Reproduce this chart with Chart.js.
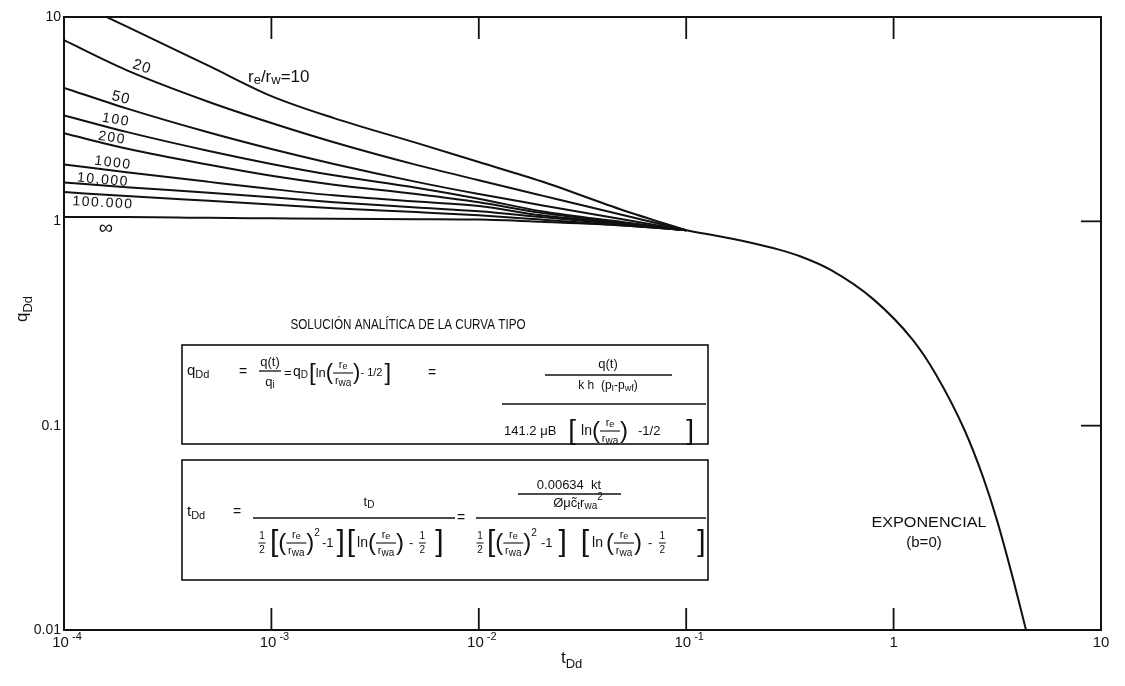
<!DOCTYPE html>
<html>
<head>
<meta charset="utf-8">
<script src="https://cdn.jsdelivr.net/npm/chart.js@4.4.1/dist/chart.umd.min.js"></script>
<style>
  html, body { margin: 0; padding: 0; background: #fff; }
  canvas { display: block; }
</style>
</head>
<body>
<canvas id="chart" width="1125" height="686"></canvas>
<script>
// dimensionless time t_Dd shared by the transient stems
const tStem = [1e-4, 2e-4, 5e-4, 1e-3, 2e-3, 5e-3, 1e-2, 2e-2, 5e-2, 0.1];

// q_Dd for each r_e/r_w stem
const qRe10     = [12.5, 9.0, 5.76, 4.1, 3.2, 2.42, 1.95, 1.57, 1.13, 0.905];
const qRe20     = [7.7, 5.5, 3.84, 3.03, 2.44, 1.89, 1.59, 1.34, 1.07, 0.905];
const qRe50     = [4.5, 3.57, 2.72, 2.26, 1.91, 1.56, 1.36, 1.20, 1.02, 0.905];
const qRe100    = [3.3, 2.74, 2.21, 1.91, 1.68, 1.46, 1.29, 1.12, 0.99, 0.905];
const qRe200    = [2.7, 2.27, 1.89, 1.67, 1.51, 1.36, 1.24, 1.10, 0.98, 0.905];
const qRe1000   = [1.9, 1.74, 1.56, 1.44, 1.34, 1.25, 1.19, 1.07, 0.975, 0.905];
const qRe10000  = [1.55, 1.47, 1.38, 1.31, 1.24, 1.17, 1.12, 1.05, 0.965, 0.905];
const qRe100000 = [1.39, 1.33, 1.26, 1.21, 1.16, 1.11, 1.07, 1.02, 0.955, 0.905];
const qReInf    = [1.05, 1.05, 1.04, 1.035, 1.03, 1.025, 1.02, 0.995, 0.955, 0.905];

// common exponential (b=0) tail
const tExp = [0.1, 0.2, 0.283, 0.354, 0.5, 0.8, 1.24, 1.6, 2.2, 2.7, 3.15, 3.8, 4.35, 5.0];
const qExp = [0.905, 0.79, 0.725, 0.675, 0.577, 0.415, 0.262, 0.178, 0.095, 0.056, 0.0345, 0.0172, 0.01, 0.0058];

const xTicks = [1e-4, 1e-3, 1e-2, 1e-1, 1, 10];
const xTickBase = ['10', '10', '10', '10', '1', '10'];
const xTickExp = ['-4', '-3', '-2', '-1', '', ''];
const yTicks = [0.01, 0.1, 1, 10];
const yTickLabels = ['0.01', '0.1', '1', '10'];

const stems = [qRe10, qRe20, qRe50, qRe100, qRe200, qRe1000, qRe10000, qRe100000, qReInf];

const FONT = '"Liberation Sans", Arial, sans-serif';
const INK = '#111';

function pts(ts, qs) {
    return ts.map((t, i) => ({ x: t, y: qs[i] }));
}

function lineSet(data) {
    return {
        data: data,
        borderColor: INK,
        borderWidth: 2,
        pointRadius: 0,
        fill: false,
        cubicInterpolationMode: 'monotone'
    };
}

const datasets = stems.map(q => lineSet(pts(tStem, q)));
datasets.push(lineSet(pts(tExp, qExp)));

// ---- small text helpers for the annotations ----
let ctx;

function hline(x1, x2, y, w) {
    ctx.lineWidth = w || 1.3;
    ctx.beginPath();
    ctx.moveTo(x1, y);
    ctx.lineTo(x2, y);
    ctx.stroke();
}

function piece(it, x, y, draw) {
    if (typeof it === 'number') return it;
    if (it === 'RF') { if (draw) rfrac(x + 10, y); return 20; }
    if (it === 'H') { if (draw) half(x + 4, y); return 9; }
    const s = it[0], size = it[1], dy = it[2] || 0;
    ctx.font = size + 'px ' + FONT;
    const w = ctx.measureText(s).width;
    if (draw) {
        ctx.textAlign = 'left';
        ctx.fillText(s, x, y + dy);
    }
    return w;
}

function run(items, x, y, align) {
    if (align === 'center') {
        let w = 0;
        items.forEach(it => { w += piece(it, 0, 0, false); });
        x -= w / 2;
    }
    items.forEach(it => { x += piece(it, x, y, true); });
    return x;
}

function rfrac(cx, y) {
    run([['r', 11], ['e', 9, 2]], cx, y - 8, 'center');
    hline(cx - 10, cx + 10, y, 1.1);
    run([['r', 11], ['wa', 10, 2]], cx, y + 8, 'center');
}

function half(cx, y) {
    run([['1', 10]], cx, y - 7, 'center');
    hline(cx - 3.5, cx + 3.5, y, 1);
    run([['2', 10]], cx, y + 7, 'center');
}

// centred text, optionally rotated, optionally stretched to a given width
function label(s, x, y, size, rot, width, spacing) {
    ctx.save();
    ctx.translate(x, y);
    ctx.rotate(rot * Math.PI / 180);
    ctx.font = size + 'px ' + FONT;
    ctx.letterSpacing = spacing || '0px';
    ctx.textAlign = 'center';
    if (width) ctx.scale(width / ctx.measureText(s).width, 1);
    ctx.fillText(s, 0, 0);
    ctx.restore();
}

const decorations = {
    id: 'decorations',
    beforeDraw(chart) {
        const c = chart.ctx;
        c.save();
        c.fillStyle = '#fff';
        c.fillRect(0, 0, chart.width, chart.height);
        c.restore();
    },
    afterDraw(chart) {
        ctx = chart.ctx;
        const a = chart.chartArea;
        const xs = chart.scales.x, ys = chart.scales.y;
        ctx.save();
        ctx.strokeStyle = INK;
        ctx.fillStyle = INK;
        ctx.textBaseline = 'middle';

        // frame
        ctx.lineWidth = 2;
        ctx.strokeRect(a.left, a.top, a.right - a.left, a.bottom - a.top);

        // inward decade ticks
        ctx.lineWidth = 1.8;
        xTicks.slice(1, -1).forEach(v => {
            const px = xs.getPixelForValue(v);
            ctx.beginPath();
            ctx.moveTo(px, a.bottom); ctx.lineTo(px, a.bottom - 22);
            ctx.moveTo(px, a.top); ctx.lineTo(px, a.top + 22);
            ctx.stroke();
        });
        yTicks.slice(1, -1).forEach(v => {
            const py = ys.getPixelForValue(v);
            ctx.beginPath();
            ctx.moveTo(a.right, py); ctx.lineTo(a.right - 20, py);
            ctx.stroke();
        });

        // x tick labels: 10 with a raised exponent
        xTicks.forEach((v, i) => {
            const px = xs.getPixelForValue(v);
            const items = [[xTickBase[i], 15]];
            if (xTickExp[i]) items.push([' ' + xTickExp[i], 11, -6]);
            run(items, px + (xTickExp[i] ? 3 : 0), a.bottom + 13, 'center');
        });

        // axis titles
        run([['t', 17], ['Dd', 13, 6]], 561, 658);
        ctx.save();
        ctx.translate(22, 322);
        ctx.rotate(-Math.PI / 2);
        run([['q', 17], ['Dd', 13, 6]], 0, 0);
        ctx.restore();

        // stem labels
        run([['r', 17], ['e', 13, 3], ['/r', 17], ['w', 13, 3], ['=10', 17]], 248, 77);
        label('20', 142, 67, 15, 18, 0, '1px');
        label('50', 121, 98, 15, 14, 0, '1px');
        label('100', 116, 120, 14, 10, 0, '1.5px');
        label('200', 112, 138, 14, 9, 0, '1.5px');
        label('1000', 113, 163, 14, 7, 0, '1.5px');
        label('10,000', 103, 180, 14, 5, 0, '1.5px');
        label('100.000', 103, 203, 14, 3, 0, '1.5px');
        label('\u221E', 106, 228, 20, 0);

        label('EXPONENCIAL', 929, 523, 15, 0, 115);
        label('(b=0)', 924, 543, 15, 0);

        label('SOLUCI\u00D3N ANAL\u00CDTICA DE LA CURVA TIPO', 408, 325, 14, 0, 235);

        // box 1: q_Dd
        ctx.lineWidth = 1.6;
        ctx.strokeRect(182, 345, 526, 99);
        run([['q', 15], ['Dd', 11, 4]], 187, 371);
        run([['=', 14]], 239, 372);
        run([['q(t)', 13]], 270, 362, 'center');
        hline(259, 281, 371);
        run([['q', 13], ['i', 10, 3]], 270, 382, 'center');
        run([['=', 13]], 284, 373);
        run([['q', 14], ['D', 10, 3]], 293, 372);
        run([['[', 24], ['ln', 13], ['(', 22], 'RF', [')', 22], ['- 1/2', 11], 2, [']', 24]], 309, 373);
        run([['=', 14]], 428, 373);
        run([['q(t)', 13]], 608, 364, 'center');
        hline(545, 672, 375);
        run([['k h  (p', 12], ['I', 9, 3], ['-p', 12], ['wf', 9, 3], [')', 12]], 608, 386, 'center');
        hline(502, 706, 404);
        run([['141.2 \u03BCB', 13], 12, ['[', 28], 5, ['ln', 14], ['(', 24], 'RF', [')', 24], 10, ['-1/2', 13], 26, [']', 28]], 504, 431);

        // box 2: t_Dd
        ctx.lineWidth = 1.6;
        ctx.strokeRect(182, 460, 526, 120);
        run([['t', 15], ['Dd', 11, 4]], 187, 512);
        run([['=', 14]], 233, 512);
        run([['t', 13], ['D', 10, 3]], 369, 502, 'center');
        hline(253, 455, 518);
        run(['H', 3, ['[', 30], ['(', 24], 'RF', [')', 24], ['2', 10, -10], 2, ['-1', 13], 3, [']', 30],
             2, ['[', 30], 2, ['ln', 14], ['(', 24], 'RF', [')', 24], 5, ['-', 13], 5, 'H', 8, [']', 30]], 258, 543);
        run([['=', 14]], 457, 518);
        run([['0.00634  kt', 13]], 569, 485, 'center');
        hline(518, 621, 494);
        run([['\u00D8\u03BCc\u0303', 13], ['t', 10, 3], ['r', 13], ['wa', 10, 3], ['2', 10, -6]], 578, 503, 'center');
        hline(476, 706, 518);
        run(['H', 2, ['[', 30], ['(', 24], 'RF', [')', 24], ['2', 10, -10], 4, ['-1', 13], 6, [']', 30], 14,
             ['[', 30], 3, ['ln', 14], 3, ['(', 24], 'RF', [')', 24], 6, ['-', 13], 6, 'H', 30, [']', 30]], 476, 543);

        ctx.restore();
    }
};

new Chart(document.getElementById('chart').getContext('2d'), {
    type: 'line',
    data: { datasets: datasets },
    options: {
        responsive: false,
        animation: false,
        devicePixelRatio: 1,
        layout: { padding: { left: 0, top: 17, right: 24, bottom: 0 } },
        plugins: {
            legend: { display: false },
            tooltip: { enabled: false }
        },
        scales: {
            x: {
                type: 'logarithmic',
                min: 1e-4,
                max: 10,
                grid: { display: false, drawTicks: false },
                border: { display: false },
                afterBuildTicks: s => { s.ticks = xTicks.map(v => ({ value: v })); },
                afterFit: s => { s.height = 56; },
                ticks: { display: false }
            },
            y: {
                type: 'logarithmic',
                min: 0.01,
                max: 10,
                grid: { display: false, drawTicks: false },
                border: { display: false },
                afterBuildTicks: s => { s.ticks = yTicks.map(v => ({ value: v })); },
                afterFit: s => { s.width = 64; },
                ticks: {
                    autoSkip: false,
                    padding: 3,
                    color: INK,
                    font: { family: FONT, size: 14 },
                    callback: v => yTickLabels[yTicks.indexOf(v)]
                }
            }
        }
    },
    plugins: [decorations]
});
</script>
</body>
</html>
